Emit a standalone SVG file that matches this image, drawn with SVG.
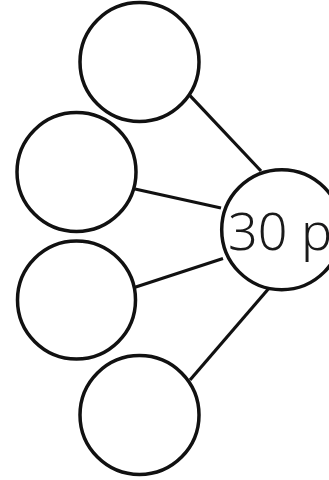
<svg xmlns="http://www.w3.org/2000/svg" width="329" height="480" viewBox="0 0 329 480">
<style>
.n{fill:#fff;stroke:#111;stroke-width:3.5}
.e{stroke:#111;stroke-width:3.2;fill:none}
.t{font-family:"Noto Sans",sans-serif;font-size:52px;font-weight:300;fill:#1a1a1a}
</style>
<rect width="329" height="480" fill="#fff"/>
<g id="connectors">
<line class="e" x1="190" y1="95.7" x2="261" y2="171"/>
<line class="e" x1="135" y1="189" x2="221" y2="208"/>
<line class="e" x1="135" y1="287.3" x2="223" y2="258.5"/>
<line class="e" x1="268.3" y1="289" x2="190" y2="380"/>
</g>
<g id="n1"><circle class="n" cx="139.5" cy="62" r="59.5"/></g>
<g id="n2"><circle class="n" cx="76.5" cy="172" r="59.5"/></g>
<g id="n3"><circle class="n" cx="76.5" cy="300" r="59"/></g>
<g id="n4"><circle class="n" cx="139.5" cy="415" r="59.5"/></g>
<g id="center"><circle class="n" cx="281.7" cy="229.7" r="60"/>
<text class="t" x="228" y="250">30 p</text></g>
</svg>
